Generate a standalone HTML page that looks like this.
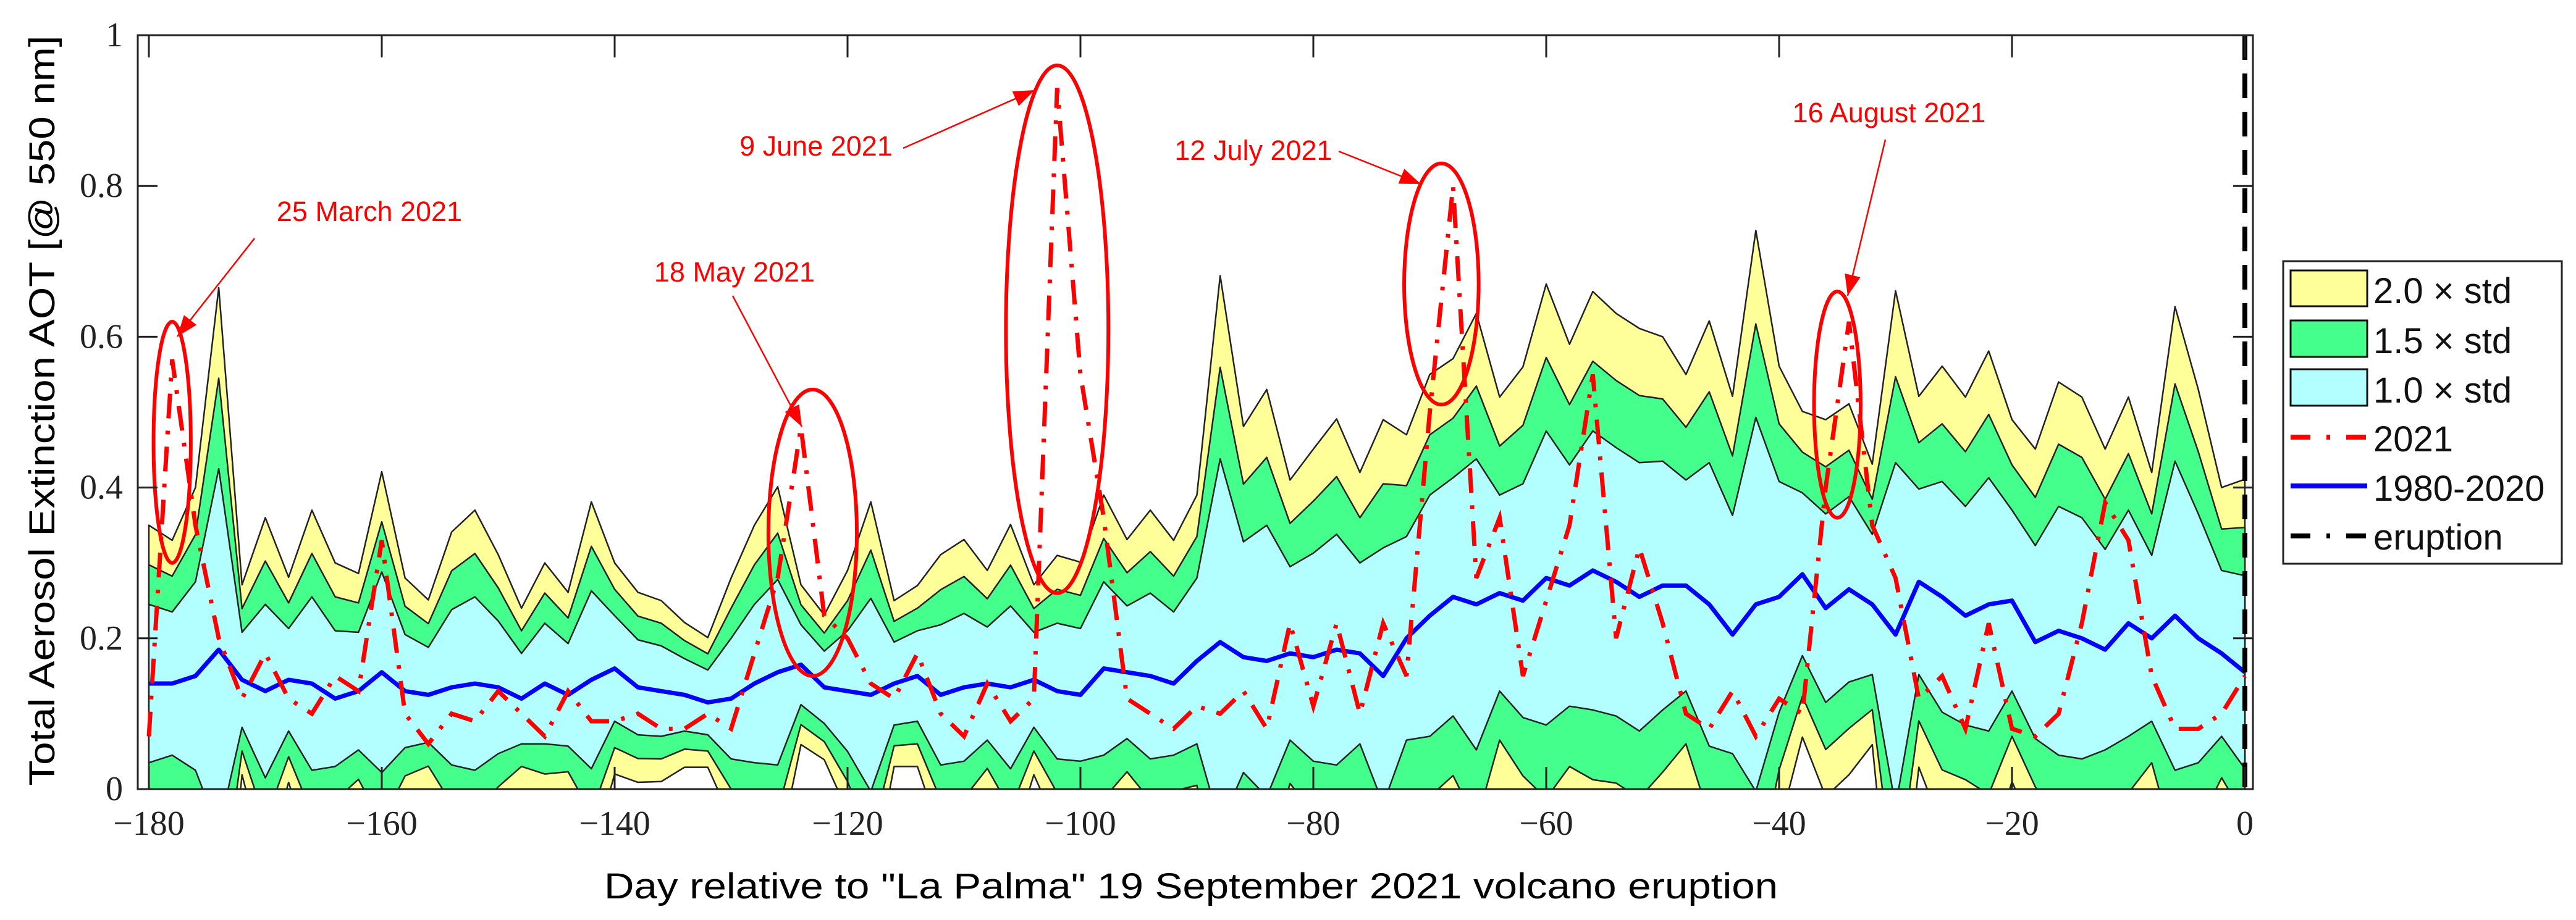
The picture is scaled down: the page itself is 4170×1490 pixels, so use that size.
<!DOCTYPE html>
<html><head><meta charset="utf-8"><style>
html,body{margin:0;padding:0;background:#fff;width:4170px;height:1490px;overflow:hidden;}
svg{display:block;}
</style></head><body>
<svg id="chart" width="4170" height="1490" viewBox="0 0 4170 1490" xmlns="http://www.w3.org/2000/svg">
<defs><clipPath id="plotclip"><rect x="223" y="57" width="3424" height="1221"/></clipPath></defs>
<g id="bands" clip-path="url(#plotclip)"></g>
<g id="lines" clip-path="url(#plotclip)"></g>
<g id="annot"></g>
<g id="axes"></g>
<text transform="translate(88,665) rotate(-90)" text-anchor="middle" font-family="Liberation Sans, sans-serif" font-size="58" textLength="1215" lengthAdjust="spacingAndGlyphs">Total Aerosol Extinction AOT [@ 550 nm]</text>
<text x="1928" y="1455" text-anchor="middle" font-family="Liberation Sans, sans-serif" font-size="58" textLength="1900" lengthAdjust="spacingAndGlyphs">Day relative to "La Palma" 19 September 2021 volcano eruption</text>
<g>
<rect x="3696" y="423" width="451" height="490" fill="#fff" stroke="#222" stroke-width="3"/>
<rect x="3708" y="438" width="124" height="58" fill="#ffff99" stroke="#111" stroke-width="3"/>
<rect x="3708" y="519" width="124" height="59" fill="#44ff8c" stroke="#111" stroke-width="3"/>
<rect x="3708" y="598" width="124" height="59" fill="#b3ffff" stroke="#111" stroke-width="3"/>
<line x1="3708" y1="708" x2="3832" y2="708" stroke="#ff0000" stroke-width="8" stroke-dasharray="32,26,6,26"/>
<line x1="3708" y1="787" x2="3832" y2="787" stroke="#0000ff" stroke-width="8"/>
<line x1="3708" y1="868" x2="3832" y2="868" stroke="#000" stroke-width="8" stroke-dasharray="32,26,6,26"/>
<g font-family="Liberation Sans, sans-serif" font-size="58" fill="#111">
<text x="3842" y="491">2.0 × std</text>
<text x="3842" y="572">1.5 × std</text>
<text x="3842" y="652">1.0 × std</text>
<text x="3842" y="731">2021</text>
<text x="3842" y="811">1980-2020</text>
<text x="3842" y="890">eruption</text>
</g></g>
</svg>
<script>
const days = [];
for (let d = -180; d <= 0; d += 2) days.push(d);
const meanVals = [0.14,0.14,0.15,0.185,0.145,0.13,0.145,0.14,0.12,0.13,0.155,0.13,0.125,0.135,0.14,0.135,0.12,0.14,0.125,0.145,0.16,0.135,0.13,0.125,0.115,0.12,0.14,0.155,0.165,0.135,0.13,0.125,0.14,0.15,0.125,0.135,0.14,0.135,0.145,0.13,0.125,0.16,0.155,0.15,0.14,0.17,0.195,0.175,0.17,0.18,0.175,0.185,0.18,0.15,0.2,0.23,0.255,0.245,0.26,0.25,0.28,0.27,0.29,0.275,0.255,0.27,0.27,0.245,0.205,0.245,0.255,0.285,0.24,0.265,0.245,0.205,0.275,0.255,0.23,0.245,0.25,0.195,0.21,0.2,0.185,0.22,0.2,0.23,0.2,0.18,0.155];
const stdVals = [0.105,0.095,0.125,0.24,0.063,0.115,0.068,0.115,0.09,0.078,0.133,0.075,0.063,0.103,0.115,0.088,0.06,0.08,0.068,0.118,0.07,0.063,0.06,0.048,0.043,0.08,0.105,0.123,0.053,0.048,0.08,0.128,0.055,0.06,0.093,0.098,0.075,0.108,0.063,0.09,0.088,0.115,0.088,0.11,0.095,0.11,0.243,0.153,0.18,0.115,0.138,0.153,0.12,0.17,0.135,0.16,0.158,0.193,0.13,0.155,0.195,0.16,0.185,0.178,0.178,0.165,0.14,0.188,0.158,0.248,0.153,0.108,0.125,0.123,0.093,0.228,0.123,0.153,0.145,0.168,0.12,0.128,0.165,0.16,0.133,0.15,0.11,0.205,0.165,0.11,0.128];
const vals2021 = [0.07,0.57,0.35,0.2,0.12,0.18,0.12,0.1,0.15,0.13,0.33,0.1,0.06,0.1,0.09,0.13,0.1,0.07,0.13,0.09,0.09,0.1,0.08,0.08,0.1,0.08,0.18,0.28,0.48,0.23,0.2,0.14,0.12,0.18,0.1,0.07,0.14,0.09,0.12,0.93,0.55,0.36,0.12,0.1,0.08,0.11,0.1,0.13,0.08,0.22,0.11,0.22,0.1,0.22,0.15,0.5,0.8,0.28,0.36,0.15,0.25,0.35,0.55,0.2,0.32,0.22,0.1,0.08,0.13,0.07,0.12,0.1,0.4,0.62,0.35,0.28,0.12,0.15,0.08,0.22,0.08,0.07,0.1,0.22,0.38,0.33,0.15,0.08,0.08,0.1,0.15];
const xTicks = [-180,-160,-140,-120,-100,-80,-60,-40,-20,0];
const yTicks = [0,0.2,0.4,0.6,0.8,1];
const yTickLabels = ["0","0.2","0.4","0.6","0.8","1"];
const eruptionDay = 0;
const annDays = [-178,-123,-102,-69,-35];
const annVals = [0.46,0.34,0.61,0.67,0.51];
const annRxDays = [1.6,3.8,4.4,3.2,2.0];
const annRyVals = [0.16,0.19,0.35,0.16,0.15];
const annLabels = ["25 March 2021","18 May 2021","9 June 2021","12 July 2021","16 August 2021"];

const X = d => 241 + (d + 180) * 18.85;
const Y = v => 1278 - v * 1221;
const NS = "http://www.w3.org/2000/svg";
function mk(tag, attrs, parent) { const e = document.createElementNS(NS, tag); for (const k in attrs) e.setAttribute(k, attrs[k]); parent.appendChild(e); return e; }

const bands = document.getElementById('bands');
const bandDefs = [[2.0,'#ffff99','band-2std'],[1.5,'#44ff8c','band-15std'],[1.0,'#b3ffff','band-1std']];
bandDefs.forEach(([k, col, nm]) => {
  const up = days.map((d,i) => X(d)+','+Y(meanVals[i]+k*stdVals[i]));
  const lo = days.map((d,i) => X(d)+','+Y(meanVals[i]-k*stdVals[i])).reverse();
  const p = mk('polygon', {points: up.concat(lo).join(' '), fill: col, stroke: '#222', 'stroke-width': 2.5, 'stroke-linejoin': 'round'}, bands);
  
  
});

const lines = document.getElementById('lines');
const bl = mk('polyline', {points: days.map((d,i) => X(d)+','+Y(meanVals[i])).join(' '), fill: 'none', stroke: '#0000ff', 'stroke-width': 7, 'stroke-linejoin': 'round'}, lines);


const rl = mk('polyline', {points: days.map((d,i) => X(d)+','+Y(vals2021[i])).join(' '), fill: 'none', stroke: '#ff0000', 'stroke-width': 7, 'stroke-dasharray': '40,20,6,20'}, lines);


const el = mk('line', {x1: X(eruptionDay), x2: X(eruptionDay), y1: 57, y2: 1278, stroke: '#000', 'stroke-width': 8, 'stroke-dasharray': '40,22'}, lines);



const annot = document.getElementById('annot');
const textPos = [[598,358],[1189,456],[1321,252],[2029,259],[3058,198]];
const arrowFrom = [[412,386],[1186,479],[1462,240],[2167,245],[3052,226]];
const arrowTo = [[287,545],[1298,691],[1675,146],[2300,298],[2991,479]];
annDays.forEach((d,i) => {
  const e = mk('ellipse', {cx: X(d), cy: Y(annVals[i]), rx: annRxDays[i]*18.85, ry: annRyVals[i]*1221, fill: 'none', stroke: '#ff0000', 'stroke-width': 6}, annot);
  
  
  const [x1,y1] = arrowFrom[i], [x2,y2] = arrowTo[i];
  const a = mk('line', {x1, y1, x2, y2, stroke: '#ff0000', 'stroke-width': 2.5}, annot);
  
  
  const ang = Math.atan2(y2-y1, x2-x1), L = 34, W = 13;
  const bx = x2 - L*Math.cos(ang), by = y2 - L*Math.sin(ang);
  const h = mk('polygon', {points: `${x2},${y2} ${bx - W*Math.sin(ang)},${by + W*Math.cos(ang)} ${bx + W*Math.sin(ang)},${by - W*Math.cos(ang)}`, fill: '#ff0000'}, annot);
  
  
  const t = mk('text', {x: textPos[i][0], y: textPos[i][1], 'text-anchor': 'middle', 'font-family': 'Liberation Sans, sans-serif', 'font-size': 45, fill: '#ff0000'}, annot);
  t.textContent = annLabels[i];
  
  
});

const axes = document.getElementById('axes');
const box = mk('rect', {x: 223, y: 57, width: 3424, height: 1221, fill: 'none', stroke: '#222', 'stroke-width': 3}, axes);


xTicks.forEach(d => {
  const x = X(d);
  mk('line', {x1: x, x2: x, y1: 1278, y2: 1242, stroke: '#222', 'stroke-width': 3}, axes);
  mk('line', {x1: x, x2: x, y1: 57, y2: 93, stroke: '#222', 'stroke-width': 3}, axes);
  const t = mk('text', {x: x, y: 1352, 'text-anchor': 'middle', 'font-family': 'Liberation Serif, serif', 'font-size': 56, fill: '#222'}, axes);
  t.textContent = d < 0 ? '\u2212' + (-d) : String(d);
  
  
});
yTicks.forEach((v,i) => {
  const y = Y(v);
  mk('line', {x1: 223, x2: 255, y1: y, y2: y, stroke: '#222', 'stroke-width': 3}, axes);
  mk('line', {x1: 3647, x2: 3615, y1: y, y2: y, stroke: '#222', 'stroke-width': 3}, axes);
  const t = mk('text', {x: 199, y: y + 18, 'text-anchor': 'end', 'font-family': 'Liberation Serif, serif', 'font-size': 56, fill: '#222'}, axes);
  t.textContent = yTickLabels[i];
  
  
});
</script>
</body></html>
